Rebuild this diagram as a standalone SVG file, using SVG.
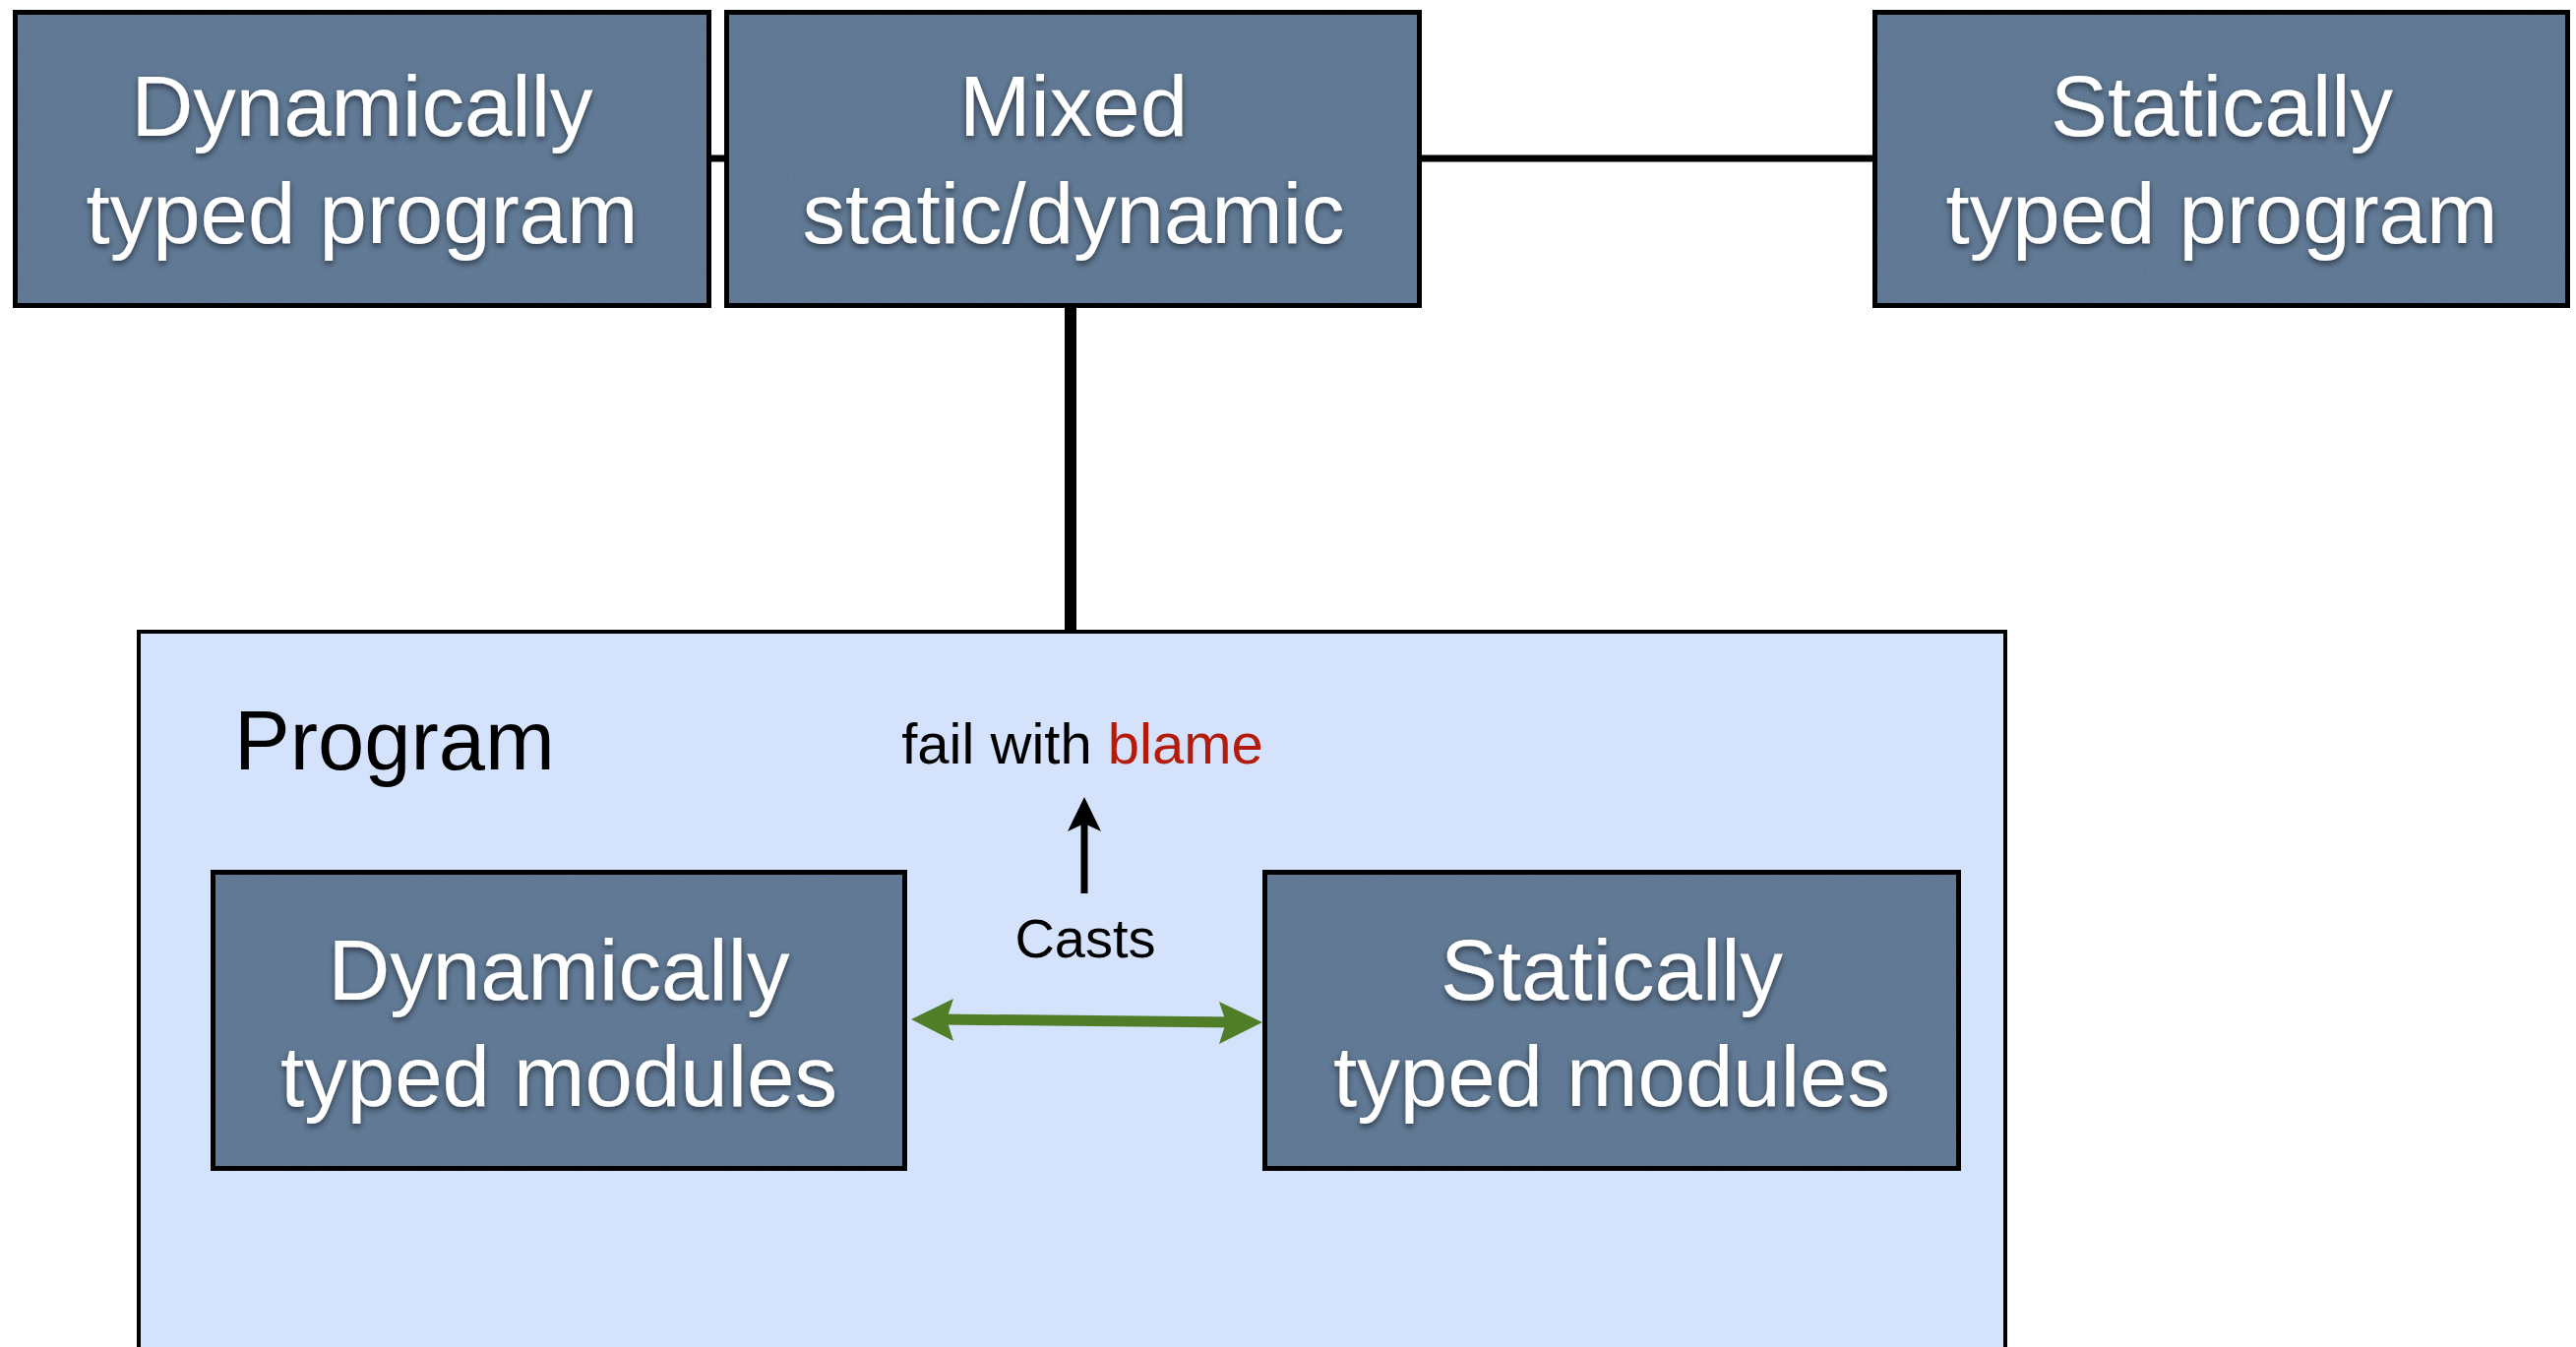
<svg xmlns="http://www.w3.org/2000/svg" width="2618" height="1369" viewBox="0 0 2618 1369">
<defs>
<style>
.node{fill:#58728f;stroke:#000;stroke-width:5}
.nt{font-family:"Liberation Sans",Arial,sans-serif;font-size:87px;fill:#fff;text-anchor:middle}
.lbl{font-family:"Liberation Sans",Arial,sans-serif;fill:#000}
.conn{stroke:#000;fill:none}
</style>
<filter id="ts" x="-10%" y="-20%" width="120%" height="140%">
<feDropShadow dx="0" dy="3" stdDeviation="3" flood-color="#000" flood-opacity="0.55"/>
</filter>
<filter id="grain" x="0" y="0" width="100%" height="100%">
<feTurbulence type="fractalNoise" baseFrequency="0.9" numOctaves="2" seed="3" result="n"/>
<feColorMatrix in="n" type="matrix" values="0 0 0 0 1  0 0 0 0 1  0 0 0 0 1  0 0 0 0.10 0" result="w"/>
<feComposite in="w" in2="SourceGraphic" operator="in"/>
</filter>
</defs>
<rect width="2618" height="1369" fill="#fff"/>

<g id="connectors">
<line class="conn" x1="723" y1="161" x2="736" y2="161" stroke-width="7"/>
<line class="conn" x1="1445" y1="161" x2="1903" y2="161" stroke-width="7"/>
<line class="conn" x1="1088" y1="313" x2="1088" y2="641" stroke-width="12"/>
</g>

<g id="program">
<rect x="141" y="642" width="1897" height="800" fill="#d4e2fb" stroke="#000" stroke-width="4"/>
<text class="lbl" x="238" y="782" font-size="85">Program</text>
</g>

<g id="dyn-program">
<rect class="node" x="15.5" y="12.5" width="705" height="298"/>
<rect x="18" y="15" width="700" height="293" fill="#fff" filter="url(#grain)"/>
<text class="nt" filter="url(#ts)"><tspan x="368" y="138">Dynamically</tspan><tspan x="368" y="247">typed program</tspan></text>
</g>

<g id="mixed">
<rect class="node" x="738.5" y="12.5" width="704" height="298"/>
<rect x="741" y="15" width="699" height="293" fill="#fff" filter="url(#grain)"/>
<text class="nt" filter="url(#ts)"><tspan x="1091" y="138">Mixed</tspan><tspan x="1091" y="247">static/dynamic</tspan></text>
</g>

<g id="static-program">
<rect class="node" x="1905.5" y="12.5" width="704" height="298"/>
<rect x="1908" y="15" width="699" height="293" fill="#fff" filter="url(#grain)"/>
<text class="nt" filter="url(#ts)"><tspan x="2258" y="138">Statically</tspan><tspan x="2258" y="247">typed program</tspan></text>
</g>

<g id="dyn-modules">
<rect class="node" x="216.5" y="886.5" width="703" height="301"/>
<rect x="219" y="889" width="698" height="296" fill="#fff" filter="url(#grain)"/>
<text class="nt" filter="url(#ts)"><tspan x="568" y="1016">Dynamically</tspan><tspan x="568" y="1124">typed modules</tspan></text>
</g>

<g id="static-modules">
<rect class="node" x="1285.5" y="886.5" width="705" height="301"/>
<rect x="1288" y="889" width="700" height="296" fill="#fff" filter="url(#grain)"/>
<text class="nt" filter="url(#ts)"><tspan x="1638" y="1016">Statically</tspan><tspan x="1638" y="1124">typed modules</tspan></text>
</g>

<g id="casts">
<text class="lbl" x="1103" y="973" font-size="56" text-anchor="middle">Casts</text>
<line x1="1102" y1="908" x2="1102" y2="835" stroke="#000" stroke-width="7"/>
<polygon points="1102,810 1119,845 1102,837 1085,845" fill="#000"/>
<line x1="955" y1="1036" x2="1255" y2="1039" stroke="#507d28" stroke-width="11"/>
<polygon points="926,1036 969,1015 962,1036 969,1058" fill="#507d28"/>
<polygon points="1283,1039 1239,1018 1246,1039 1239,1061" fill="#507d28"/>
</g>

<g id="blame">
<text class="lbl" x="1100" y="776" font-size="58" text-anchor="middle">fail with <tspan fill="#b31b0c">blame</tspan></text>
</g>
</svg>
